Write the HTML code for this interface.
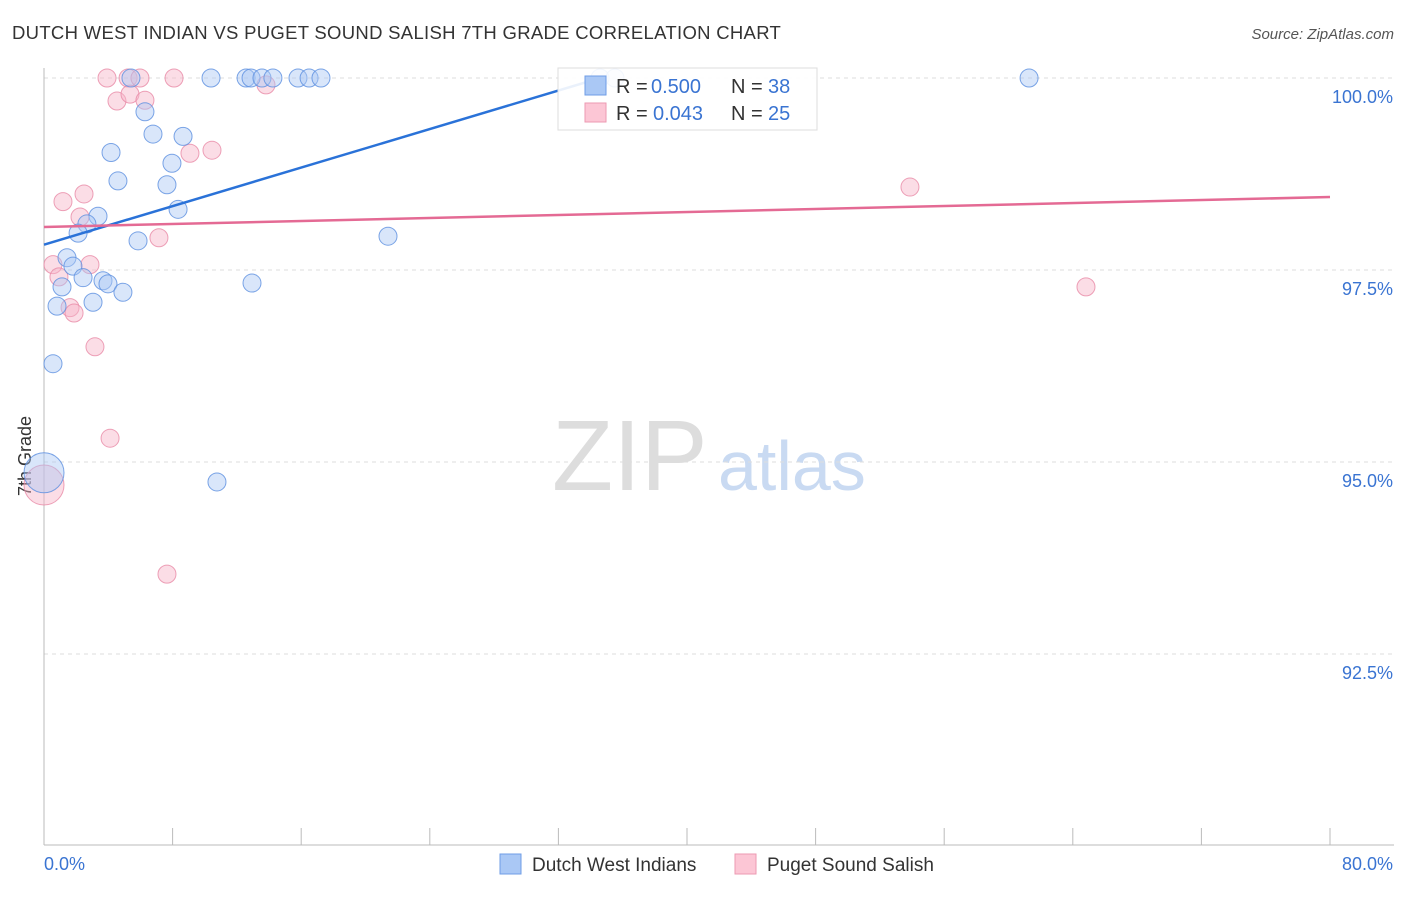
<!DOCTYPE html>
<html><head><meta charset="utf-8"><style>
body{margin:0;background:#fff;font-family:"Liberation Sans",sans-serif}
svg text{font-family:"Liberation Sans",sans-serif}
</style></head><body>
<svg width="1406" height="892" id="c">
<text x="12" y="39" font-size="18.5" letter-spacing="0.3" fill="#333">DUTCH WEST INDIAN VS PUGET SOUND SALISH 7TH GRADE CORRELATION CHART</text>
<text x="1394" y="39" font-size="15" fill="#555" text-anchor="end" font-style="italic">Source: ZipAtlas.com</text>
<text x="26" y="456" font-size="18" fill="#333" transform="rotate(-90 26 456)" text-anchor="middle" dominant-baseline="middle">7th Grade</text>
<g><text x="552" y="490" font-size="100" fill="#ddd" font-family="Liberation Serif">ZIP</text><text x="718" y="490" font-size="70" fill="#c9daf2">atlas</text></g>
<g id="grid"></g><g id="axes"></g><g id="pts"></g><g id="lines"></g>
<g>
<rect x="558" y="68" width="259" height="62" fill="#fff" fill-opacity="0.9" stroke="#ddd"/>
<rect x="585" y="76" width="21" height="19" fill="#aac8f5" stroke="#6f9de6"/>
<rect x="585" y="103" width="21" height="19" fill="#fcc6d5" stroke="#ec9ab2"/>
<text x="616" y="93" font-size="20" fill="#333">R =</text>
<text x="651" y="93" font-size="20" fill="#3a74d2">0.500</text>
<text x="731" y="93" font-size="20" fill="#333">N =</text>
<text x="768" y="93" font-size="20" fill="#3a74d2">38</text>
<text x="616" y="120" font-size="20" fill="#333">R =</text>
<text x="653" y="120" font-size="20" fill="#3a74d2">0.043</text>
<text x="731" y="120" font-size="20" fill="#333">N =</text>
<text x="768" y="120" font-size="20" fill="#3a74d2">25</text>
</g>
<g>
<rect x="500" y="854" width="21" height="20" fill="#aac8f5" stroke="#6f9de6"/>
<text x="532" y="871" font-size="19" fill="#333">Dutch West Indians</text>
<rect x="735" y="854" width="21" height="20" fill="#fcc6d5" stroke="#ec9ab2"/>
<text x="767" y="871" font-size="19" fill="#333">Puget Sound Salish</text>
</g>
</svg>
<script>
const yTicks=[100,97.5,95,92.5];
const yTickLabels=["100.0%","97.5%","95.0%","92.5%"];
const xTickLabels=["0.0%","80.0%"];
const blueX=[5.41,10.39,12.57,12.88,13.56,14.24,15.80,16.49,17.23,34.59,35.52,61.28,6.28,6.78,8.65,4.17,7.96,4.60,7.65,8.34,3.36,2.67,2.12,5.85,21.40,1.43,1.80,1.12,2.43,3.67,3.98,12.94,4.91,0.81,3.05,0.56,10.76,0.0];
const blueY=[100,100,100,100,100,100,100,100,100,100,100,100,99.56,99.27,99.24,99.03,98.89,98.66,98.61,98.29,98.20,98.10,97.98,97.88,97.94,97.66,97.55,97.28,97.40,97.36,97.32,97.33,97.21,97.03,97.08,96.28,94.74,94.86];
const pinkX=[3.92,5.23,5.97,8.09,13.81,4.54,5.35,6.28,10.45,9.08,53.87,2.49,1.18,2.24,7.15,0.56,2.86,0.93,1.62,1.87,3.17,4.11,7.65,64.82,0];
const pinkY=[100,100,100,100,99.91,99.70,99.79,99.71,99.06,99.02,98.58,98.49,98.39,98.19,97.92,97.57,97.57,97.41,97.01,96.94,96.50,95.31,93.54,97.28,94.70];
const blueTrend=[[0,97.83],[34.6,100]];
const pinkTrend=[[0,98.06],[80,98.45]];
const X=v=>44+v/80*1286, Y=v=>78+(100-v)*76.8;
const NS="http://www.w3.org/2000/svg";
function mk(p,t,a){const e=document.createElementNS(NS,t);for(const k in a)e.setAttribute(k,a[k]);document.getElementById(p).appendChild(e);return e;}
yTicks.forEach((v,i)=>{
 const l=mk('grid','line',{x1:44,x2:1394,y1:Y(v),y2:Y(v),stroke:'#ddd','stroke-dasharray':'4 4'});
 
 
 const t=mk('grid','text',{x:1393,y:Y(v)+25,'font-size':18,fill:'#3a74d2','text-anchor':'end'});
 t.textContent=yTickLabels[i];
 
 
});
const ax=mk('axes','line',{x1:44,x2:44,y1:68,y2:845,stroke:'#bbb'});


const bx=mk('axes','line',{x1:44,x2:1394,y1:845,y2:845,stroke:'#bbb'});


for(let i=1;i<=10;i++){const t=mk('axes','line',{x1:X(i*8),x2:X(i*8),y1:828,y2:845,stroke:'#bbb'});
 
 }
[[0,'start'],[80,'end']].forEach((d,i)=>{const t=mk('axes','text',{x:i?1393:44,y:870,'font-size':18,fill:'#3a74d2','text-anchor':d[1]});t.textContent=xTickLabels[i];
 
 });
function pts(xs,ys,f,s,name){xs.forEach((x,i)=>{const big=(x===0&&ys[i]<96);const c=mk('pts','circle',{cx:X(x),cy:Y(ys[i]),r:big?20:9,fill:f,'fill-opacity':0.45,stroke:s,'stroke-opacity':0.8,'stroke-width':1});
 
 });}
pts(pinkX,pinkY,'#f7b3c7','#e88aa6','puget-point');
pts(blueX,blueY,'#aac8f5','#5b8fe0','dutch-point');
const bl=mk('lines','line',{x1:X(blueTrend[0][0]),y1:Y(blueTrend[0][1]),x2:X(blueTrend[1][0]),y2:Y(blueTrend[1][1]),stroke:'#2a72d8','stroke-width':2.5});


const pl=mk('lines','line',{x1:X(pinkTrend[0][0]),y1:Y(pinkTrend[0][1]),x2:X(pinkTrend[1][0]),y2:Y(pinkTrend[1][1]),stroke:'#e46a94','stroke-width':2.5});


</script>
</body></html>
